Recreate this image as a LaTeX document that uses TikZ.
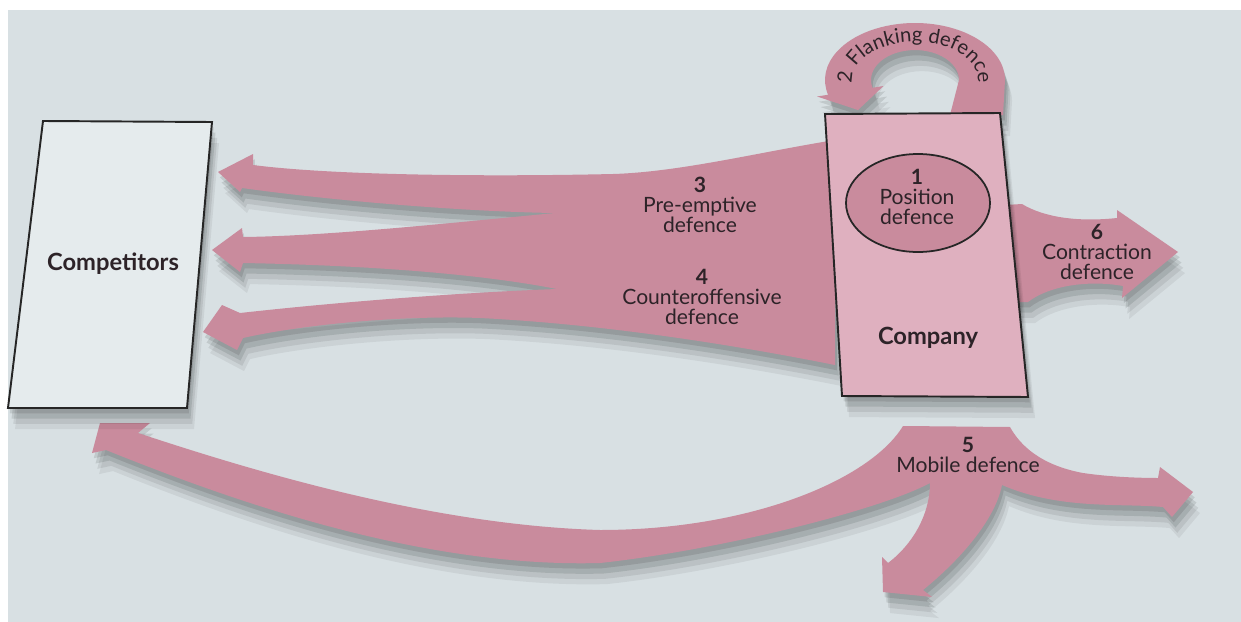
\documentclass[tikz,border=0pt]{standalone}
\usepackage{fontspec}
\setmainfont{Lato}
\usetikzlibrary{decorations.text}
\definecolor{bggrey}{RGB}{216,224,227}
\definecolor{arrowpink}{RGB}{201,139,157}
\definecolor{boxpink}{RGB}{223,176,191}
\definecolor{boxgrey}{RGB}{229,235,237}
\definecolor{inkgrey}{RGB}{45,35,40}

\begin{document}
\begin{tikzpicture}[x=.02cm,y=.02cm,
  softshadow/.style={preaction={fill=black,fill opacity=.1,transform canvas={xshift=1pt,yshift=-3pt}},
    preaction={fill=black,fill opacity=.1,transform canvas={xshift=2pt,yshift=-6pt}},
    preaction={fill=black,fill opacity=.08,transform canvas={xshift=3pt,yshift=-9pt}},
    preaction={fill=black,fill opacity=.06,transform canvas={xshift=4pt,yshift=-12pt}}},
  pinkarrow/.style={fill=arrowpink,softshadow},
  sidebox/.style={draw=black!85,line width=1.1pt,softshadow},
  lbl/.style={align=center,text=inkgrey,font=\fontsize{12}{11.4}\selectfont},
  boxlbl/.style={text=inkgrey,font=\bfseries\fontsize{13.5}{14}\selectfont}]
\useasboundingbox (0,0) rectangle (1241,-622);
\fill[white] (0,0) rectangle (1241,-622); \fill[bggrey] (8,-10) rectangle (1241,-622);
\fill[pinkarrow] (835,-140) .. controls (760,-152) and (680,-172) .. (613,-174) .. controls (480,-177) and (330,-175) .. (253,-165) -- (253,-154) -- (218,-172) -- (240,-192) -- (242,-188) .. controls (350,-203) and (480,-212) .. (555,-213) .. controls (460,-222) and (330,-236) .. (243,-237) -- (242,-228) -- (212,-250) -- (240,-272) -- (243,-263) .. controls (350,-265) and (470,-272) .. (557,-289) .. controls (450,-293) and (330,-303) .. (240,-313) -- (222,-305) -- (203,-332) -- (237,-350) -- (243,-338) .. controls (300,-325) and (400,-315) .. (480,-318) .. controls (620,-325) and (760,-350) .. (835,-365) -- cycle;
\fill[pinkarrow] (1005,-205) -- (1022,-204) .. controls (1045,-218) and (1080,-222) .. (1117,-218) -- (1117,-210) -- (1178,-252) -- (1122,-298) -- (1123,-286) .. controls (1090,-280) and (1050,-285) .. (1028,-302) -- (1012,-302) -- cycle;
\fill[pinkarrow] (950,-115) -- (1003,-115) -- (1005,-80) arc[start angle=0,end angle=195,x radius=90,y radius=57] -- (817,-96.5) -- (858,-110) -- (883.5,-86) -- (872.5,-87.8) arc[start angle=195,end angle=0,x radius=44,y radius=30] -- cycle;
\path[decorate,decoration={text along path,text align=center,text={|\color{inkgrey}\fontsize{11.5}{12}\selectfont|2 Flanking defence}}] (852.2,-83.3) arc[start angle=185,end angle=-5,x radius=63,y radius=38];
\fill[pinkarrow] (903,-426) -- (1010,-427) .. controls (1020,-445) and (1040,-465) .. (1083,-473) .. controls (1110,-477) and (1140,-478) .. (1158,-478) -- (1160,-467) -- (1193,-492) -- (1172,-517) -- (1163,-507) .. controls (1120,-503) and (1060,-510) .. (1002,-485) .. controls (995,-520) and (960,-560) .. (923,-590) -- (932,-597) -- (883,-592) -- (882,-557) -- (888,-563) .. controls (912,-545) and (930,-515) .. (930,-483) .. controls (880,-510) and (720,-550) .. (600,-563) .. controls (420,-568) and (230,-500) .. (106,-450) -- (92,-453) -- (100,-423) -- (150,-423) -- (138,-433) .. controls (250,-470) and (430,-525) .. (600,-530) .. controls (750,-530) and (870,-480) .. (903,-426) -- cycle;
\draw[sidebox,fill=boxgrey] (43,-121) -- (212,-122) -- (187,-408) -- (8,-408) -- cycle;
\draw[sidebox,fill=boxpink] (825,-114) -- (1000,-113) -- (1028,-397) -- (842,-396) -- cycle;
\draw[fill=arrowpink,draw=black!85,line width=1pt] (918,-203) ellipse [x radius=72,y radius=49];
\node[boxlbl] (rivals) at (113,-264) {Competitors};
\node[boxlbl] (firm) at (928,-338) {Company};
\node[lbl] (position) at (917,-197) {\textbf{1}\\Position\\defence};
\node[lbl] (preempt) at (700,-205) {\textbf{3}\\Pre-emptive\\defence};
\node[lbl] (counter) at (702,-297) {\textbf{4}\\Counteroffensive\\defence};
\node[lbl] (contract) at (1097,-252) {\textbf{6}\\Contraction\\defence};
\node[lbl] (mobile) at (968,-455) {\textbf{5}\\Mobile defence};
\end{tikzpicture}
\end{document}
